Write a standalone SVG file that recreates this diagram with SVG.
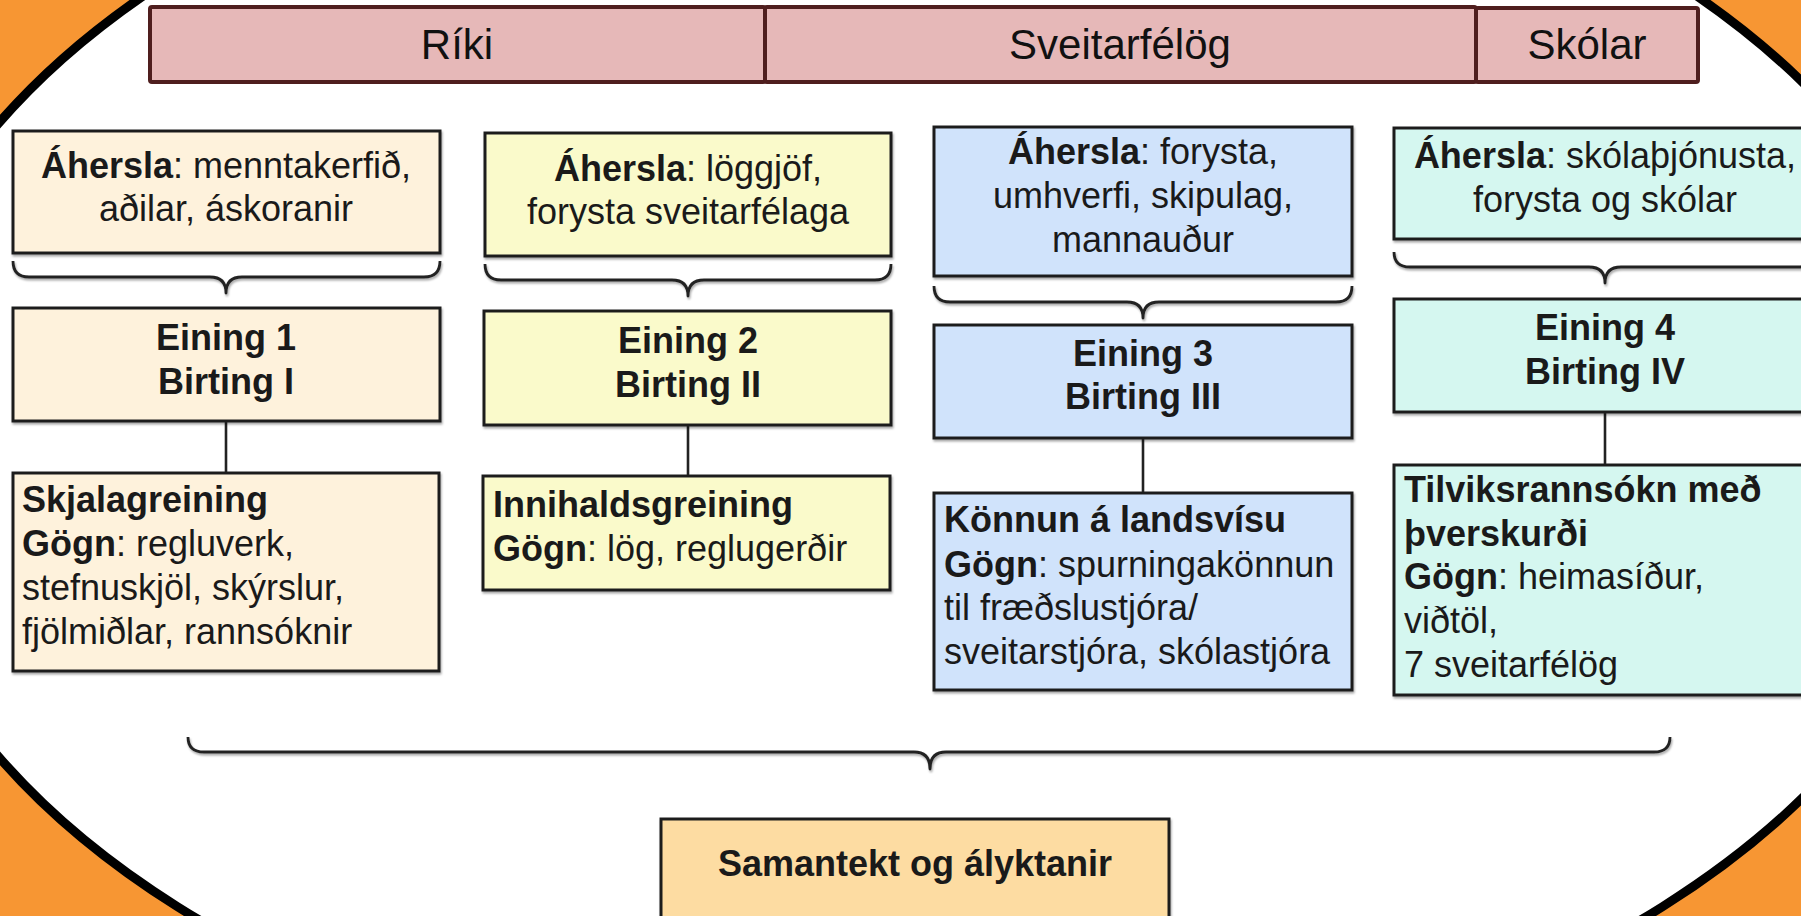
<svg xmlns="http://www.w3.org/2000/svg" width="1801" height="916" viewBox="0 0 1801 916">
<style>
  .hdr{fill:#e6b8b8;stroke:#4f1e1e;stroke-width:4}
  .htxt{font-family:"Liberation Sans",Arial,sans-serif;font-size:42px;fill:#111;text-anchor:middle}
  .box{stroke:#1e1e1e;stroke-width:3;filter:url(#sh)}
  .c1{fill:#fef2dc}
  .c2{fill:#fafacb}
  .c3{fill:#d0e3fb}
  .c4{fill:#d5f7f0}
  .c5{fill:#fddca2}
  .t{font-family:"Liberation Sans",Arial,sans-serif;font-size:36px;fill:#1a1a1a}
  .mid{text-anchor:middle}
  .b{font-weight:bold}
  .brace{fill:none;stroke:#222;stroke-width:2.8;stroke-linejoin:round;filter:url(#sh)}
  .conn{stroke:#222;stroke-width:2.6}
</style>
<defs>
  <filter id="sh" x="-5%" y="-5%" width="110%" height="120%">
    <feDropShadow dx="1" dy="2" stdDeviation="1.2" flood-color="#000" flood-opacity="0.35"/>
  </filter>
</defs>
<rect x="0" y="0" width="1801" height="916" fill="#f79633"/>
<ellipse cx="920" cy="440" rx="1050" ry="660" fill="#ffffff" stroke="#000" stroke-width="9"/>

<g id="header">
  <rect class="hdr" x="150" y="7" width="615" height="75" rx="2"/>
  <rect class="hdr" x="765" y="7" width="711" height="75" rx="2"/>
  <rect class="hdr" x="1476" y="8" width="222" height="74" rx="2"/>
  <text class="htxt" x="457" y="59">Ríki</text>
  <text class="htxt" x="1120" y="59">Sveitarfélög</text>
  <text class="htxt" x="1587" y="59">Skólar</text>
</g>

<g id="connectors">
  <path class="brace" d="M13,261 Q13,277 29,277 L210,277 Q226,277 226,293 Q226,277 242,277 L424,277 Q440,277 440,261"/>
  <path class="brace" d="M485,264 Q485,280 501,280 L672,280 Q688,280 688,296 Q688,280 704,280 L875,280 Q891,280 891,264"/>
  <path class="brace" d="M934,286 Q934,302 950,302 L1127,302 Q1143,302 1143,318 Q1143,302 1159,302 L1336,302 Q1352,302 1352,286"/>
  <path class="brace" d="M1394,252 Q1394,267 1410,267 L1589,267 Q1605,267 1605,283 Q1605,267 1621,267 L1800,267 Q1816,267 1816,252"/>
  <path class="brace" d="M188,737 Q188,752 204,752 L914,752 Q930,752 930,769 Q930,752 946,752 L1654,752 Q1670,752 1670,737"/>
  <line class="conn" x1="226" y1="421" x2="226" y2="473"/>
  <line class="conn" x1="688" y1="425" x2="688" y2="476"/>
  <line class="conn" x1="1143" y1="438" x2="1143" y2="493"/>
  <line class="conn" x1="1605" y1="412" x2="1605" y2="465"/>
</g>

<g id="ahersla1">
  <rect class="box c1" x="13" y="131" width="427" height="122"/>
  <text class="t mid" x="226" y="178"><tspan class="b">Áhersla</tspan>: menntakerfið,</text>
  <text class="t mid" x="226" y="221">aðilar, áskoranir</text>
</g>
<g id="eining1">
  <rect class="box c1" x="13" y="308" width="427" height="113"/>
  <text class="t mid b" x="226" y="350">Eining 1</text>
  <text class="t mid b" x="226" y="394">Birting I</text>
</g>
<g id="gogn1">
  <rect class="box c1" x="13" y="473" width="426" height="198"/>
  <text class="t b" x="22" y="512">Skjalagreining</text>
  <text class="t" x="22" y="556"><tspan class="b">Gögn</tspan>: regluverk,</text>
  <text class="t" x="22" y="600">stefnuskjöl, skýrslur,</text>
  <text class="t" x="22" y="644">fjölmiðlar, rannsóknir</text>
</g>

<g id="ahersla2">
  <rect class="box c2" x="485" y="133" width="406" height="123"/>
  <text class="t mid" x="688" y="181"><tspan class="b">Áhersla</tspan>: löggjöf,</text>
  <text class="t mid" x="688" y="224">forysta sveitarfélaga</text>
</g>
<g id="eining2">
  <rect class="box c2" x="484" y="311" width="407" height="114"/>
  <text class="t mid b" x="688" y="353">Eining 2</text>
  <text class="t mid b" x="688" y="397">Birting II</text>
</g>
<g id="gogn2">
  <rect class="box c2" x="483" y="476" width="407" height="114"/>
  <text class="t b" x="493" y="517">Innihaldsgreining</text>
  <text class="t" x="493" y="561"><tspan class="b">Gögn</tspan>: lög, reglugerðir</text>
</g>

<g id="ahersla3">
  <rect class="box c3" x="934" y="127" width="418" height="149"/>
  <text class="t mid" x="1143" y="164"><tspan class="b">Áhersla</tspan>: forysta,</text>
  <text class="t mid" x="1143" y="208">umhverfi, skipulag,</text>
  <text class="t mid" x="1143" y="252">mannauður</text>
</g>
<g id="eining3">
  <rect class="box c3" x="934" y="325" width="418" height="113"/>
  <text class="t mid b" x="1143" y="366">Eining 3</text>
  <text class="t mid b" x="1143" y="409">Birting III</text>
</g>
<g id="gogn3">
  <rect class="box c3" x="934" y="493" width="418" height="197"/>
  <text class="t b" x="944" y="532">Könnun á landsvísu</text>
  <text class="t" x="944" y="577"><tspan class="b">Gögn</tspan>: spurningakönnun</text>
  <text class="t" x="944" y="620">til fræðslustjóra/</text>
  <text class="t" x="944" y="664">sveitarstjóra, skólastjóra</text>
</g>

<g id="ahersla4">
  <rect class="box c4" x="1394" y="128" width="422" height="111"/>
  <text class="t mid" x="1605" y="168"><tspan class="b">Áhersla</tspan>: skólaþjónusta,</text>
  <text class="t mid" x="1605" y="212">forysta og skólar</text>
</g>
<g id="eining4">
  <rect class="box c4" x="1394" y="299" width="422" height="113"/>
  <text class="t mid b" x="1605" y="340">Eining 4</text>
  <text class="t mid b" x="1605" y="384">Birting IV</text>
</g>
<g id="gogn4">
  <rect class="box c4" x="1394" y="465" width="422" height="230"/>
  <text class="t b" x="1404" y="502">Tilviksrannsókn með</text>
  <text class="t b" x="1404" y="546">þverskurði</text>
  <text class="t" x="1404" y="589"><tspan class="b">Gögn</tspan>: heimasíður,</text>
  <text class="t" x="1404" y="633">viðtöl,</text>
  <text class="t" x="1404" y="677">7 sveitarfélög</text>
</g>

<g id="samantekt">
  <rect class="box c5" x="661" y="819" width="508" height="110"/>
  <text class="t mid b" x="915" y="876">Samantekt og ályktanir</text>
</g>
</svg>
